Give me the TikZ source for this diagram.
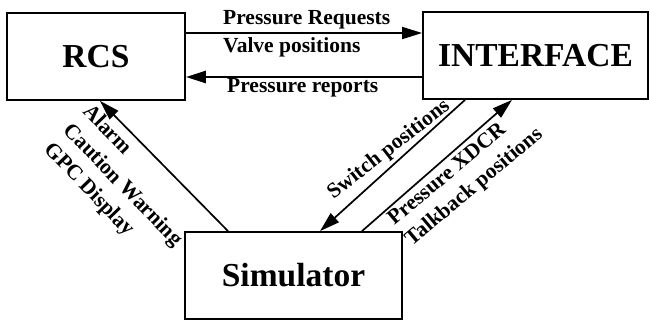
\documentclass[tikz,border=0pt]{standalone}
\usepackage{fontspec}
\setmainfont{Liberation Serif}
\usetikzlibrary{arrows.meta}

\begin{document}
\begin{tikzpicture}[x=1pt,y=-1pt,
  box/.style={draw, line width=1.8pt, minimum height=87pt, font=\fontsize{33.5}{33.5}\selectfont\bfseries},
  arr/.style={line width=1.7pt, -{Triangle[length=20pt,width=12pt]}},
  lbl/.style={inner sep=0pt, font=\fontsize{21.5}{27}\selectfont\bfseries}]
  \useasboundingbox (0,0) rectangle (650,321);
  \node[box, minimum width=178pt] (rcs) at (96,56.5) {RCS};
  \node[box, minimum width=225pt] (iface) at (535.5,55.5) {INTERFACE};
  \node[box, minimum width=217pt] (sim) at (293.5,275.5) {Simulator};
  % top links
  \draw[arr] ([yshift=23.5pt]rcs.east) -- ([yshift=23.5pt]rcs.east -| iface.west);
  \draw[arr, line width=2.6pt] ([yshift=-21.5pt]iface.west) -- ([yshift=-21.5pt]iface.west -| rcs.east);
  % links to the simulator
  \draw[arr] ([xshift=-65.5pt]sim.north) -- ([xshift=4pt]rcs.south);
  \draw[arr] ([xshift=-70.5pt]iface.south) -- ([xshift=26.5pt]sim.north);
  \draw[arr] ([xshift=68.5pt]sim.north) -- ([xshift=-23.5pt]iface.south);
  % labels
  \node[lbl, anchor=west] (preq) at (223,20) {Pressure Requests};
  \node[lbl, anchor=west] (valve) at (223,47) {Valve positions};
  \node[lbl, anchor=west] (prep) at (227,88) {Pressure reports};
  \node[lbl, align=left, rotate=-46, anchor=north west] (alarm) at (93,102) {Alarm\\Caution Warning\\GPC Display};
  \node[lbl, rotate=38] (switch) at (389,150) {Switch positions};
  \node[lbl, align=left, rotate=40, anchor=north west] (xdcr) at (385,215) {Pressure XDCR\\Talkback positions};
\end{tikzpicture}
\end{document}
